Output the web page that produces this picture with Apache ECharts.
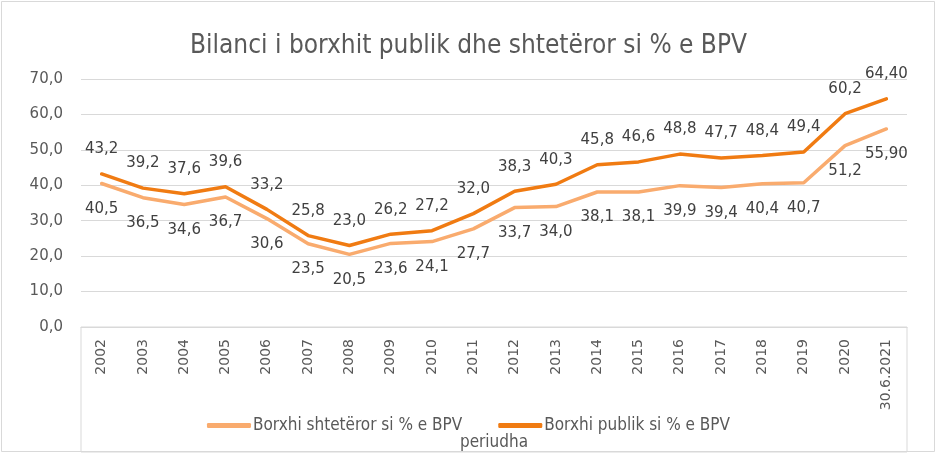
<!DOCTYPE html>
<html>
<head>
<meta charset="utf-8">
<script src="https://cdn.jsdelivr.net/npm/echarts@6/dist/echarts.min.js"></script>
<style>
html,body{margin:0;padding:0;background:#fff;}
#chart{width:937px;height:454px;}
</style>
</head>
<body>
<div id="chart"></div>
<script>
const categories = ['2002','2003','2004','2005','2006','2007','2008','2009','2010','2011','2012','2013','2014','2015','2016','2017','2018','2019','2020','30.6.2021'];
const shteteror = [40.5,36.5,34.6,36.7,30.6,23.5,20.5,23.6,24.1,27.7,33.7,34.0,38.1,38.1,39.9,39.4,40.4,40.7,51.2,55.90];
const publik = [43.2,39.2,37.6,39.6,33.2,25.8,23.0,26.2,27.2,32.0,38.3,40.3,45.8,46.6,48.8,47.7,48.4,49.4,60.2,64.40];
const labelDecimals = [1,1,1,1,1,1,1,1,1,1,1,1,1,1,1,1,1,1,1,2];
const yTicks = {min:0, max:70, interval:10};

const narrow = '"Liberation Sans Narrow","DejaVu Sans Condensed","Open Sans",sans-serif';
const wide = '"DejaVu Sans",Verdana,sans-serif';
const fmt = (v, d) => v.toFixed(d).replace('.', ',');

const chart = echarts.init(document.getElementById('chart'), null, {renderer:'canvas'});
chart.setOption({
  backgroundColor:'#fff',
  animation:false,
  title:{
    text:'Bilanci i borxhit publik dhe shtetëror si % e BPV',
    left:'center', top:28,
    textStyle:{fontFamily:narrow, fontSize:26, fontWeight:'normal', color:'#595959'}
  },
  graphic:[{
    type:'rect', shape:{x:1.5,y:1.5,width:933,height:450},
    style:{fill:'none', stroke:'#d9d9d9', lineWidth:1}, silent:true
  }],
  legend:{
    bottom:15, left:'center', itemGap:36, itemWidth:44, itemHeight:5,
    icon:'roundRect',
    textStyle:{fontFamily:narrow, fontSize:17, color:'#595959', padding:[0,0,0,-3]},
    data:['Borxhi shtetëror si % e BPV','Borxhi publik si % e BPV']
  },
  grid:[
    {left:81, right:30, top:79, bottom:127, containLabel:false, outerBoundsMode:'none'},
    {left:81, right:30, top:327, bottom:2, show:true, borderColor:'#d9d9d9', borderWidth:1, backgroundColor:'transparent', outerBoundsMode:'none'}
  ],
  xAxis:{
    type:'category', data:categories, boundaryGap:true, gridIndex:0,
    name:'periudha', nameLocation:'middle', nameGap:107,
    nameTextStyle:{fontFamily:narrow, fontSize:17, color:'#595959'},
    axisLine:{show:true, lineStyle:{color:'#d9d9d9'}},
    axisTick:{show:false},
    axisLabel:{rotate:90, margin:12, fontFamily:wide, fontSize:14, color:'#595959', interval:0}
  },
  yAxis:{
    type:'value', min:yTicks.min, max:yTicks.max, interval:yTicks.interval, gridIndex:0,
    axisLine:{show:false}, axisTick:{show:false},
    splitLine:{lineStyle:{color:'#d9d9d9', width:1}},
    axisLabel:{margin:18, fontFamily:wide, fontSize:15, color:'#595959', formatter:v=>fmt(v,1)}
  },
  series:[
    {
      name:'Borxhi shtetëror si % e BPV', type:'line', data:shteteror,
      symbol:'circle', symbolSize:0.1, showSymbol:true,
      lineStyle:{color:'#F9AB6E', width:3.5, cap:'round', join:'round'},
      itemStyle:{color:'#F9AB6E'},
      label:{show:true, position:'bottom', distance:18, fontFamily:wide, fontSize:15, color:'#404040',
        formatter:p=>fmt(p.value, labelDecimals[p.dataIndex])},
      labelLayout:{hideOverlap:false},
      z:2
    },
    {
      name:'Borxhi publik si % e BPV', type:'line', data:publik,
      symbol:'circle', symbolSize:0.1, showSymbol:true,
      lineStyle:{color:'#F07B12', width:3.5, cap:'round', join:'round'},
      itemStyle:{color:'#F07B12'},
      label:{show:true, position:'top', distance:17, fontFamily:wide, fontSize:15, color:'#404040',
        formatter:p=>fmt(p.value, labelDecimals[p.dataIndex])},
      labelLayout:{hideOverlap:false},
      z:3
    }
  ]
});
</script>
</body>
</html>
